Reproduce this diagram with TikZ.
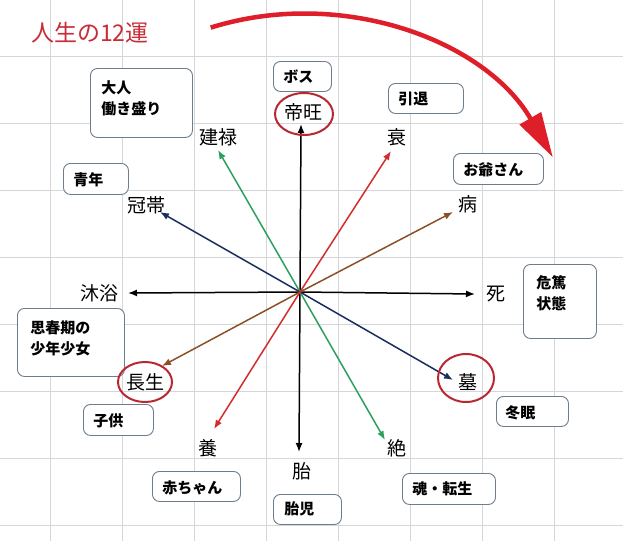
\documentclass[tikz,border=0pt]{standalone}
\usepackage{fontspec}
\newfontfamily\jpfont{Noto Sans CJK JP}
\usepackage{xcolor}
\usepackage{tikz}
\usetikzlibrary{arrows.meta,calc}
\definecolor{gridgray}{RGB}{212,214,218}
\definecolor{boxline}{RGB}{110,125,140}
\definecolor{titlered}{RGB}{200,45,55}
\definecolor{arcred}{RGB}{222,30,40}
\definecolor{ringred}{RGB}{185,40,50}
\definecolor{spokegreen}{RGB}{45,160,95}
\definecolor{spokenavy}{RGB}{25,45,95}
\definecolor{spokebrown}{RGB}{140,80,40}
\definecolor{spokered}{RGB}{210,45,45}

\begin{document}
\begin{tikzpicture}[x=1pt,y=-1pt,>={Latex[length=9pt,width=7pt]},
    gridline/.style={gridgray,line width=1pt},
    spoke/.style={->,line width=1.5pt},
    lbl/.style={font=\jpfont\fontsize{19}{21}\selectfont,inner sep=1pt},
    agebox/.style={draw=boxline,fill=white,line width=0.9pt,rounded corners=7pt,
      anchor=north west,align=left,inner xsep=10pt,inner ysep=0pt,
      font=\jpfont\bfseries\fontsize{15}{21}\selectfont},
    ring/.style={ringred,line width=2pt}]
  \useasboundingbox (0,0) rectangle (623,541);
  \fill[white] (0,0) rectangle (623,541);
  % grid
  \foreach \i in {0,...,7} {
    \draw[gridline] ({50+72.14*\i},0) -- ({50+72.14*\i},541);
    \draw[gridline] (0,{56+67.14*\i}) -- (623,{56+67.14*\i});
  }

  % title
  \node[anchor=west,text=titlered,inner sep=0pt,
    font=\jpfont\fontsize{23}{26}\selectfont] (title) at (31,33) {人生の12運};

  % life stage boxes
  \node[agebox,inner xsep=11pt,text width=80pt,text height=25pt,text depth=44pt] (otona) at (90,68) {大人\\働き盛り};
  \node[agebox,text width=38pt,text height=21pt,text depth=9pt] (boss) at (273,61) {ボス};
  \node[agebox,text width=55pt,text height=21pt,text depth=9pt] (intai) at (388,83) {引退};
  \node[agebox,text width=70pt,text height=22pt,text depth=9pt] (ojiisan) at (453,153) {お爺さん};
  \node[agebox,text width=45pt,text height=22pt,text depth=9pt] (seinen) at (63,163) {青年};
  \node[agebox,inner xsep=13pt,text width=47pt,text height=24pt,text depth=50pt] (kitoku) at (523,264) {危篤\\状態};
  \node[agebox,inner xsep=13pt,text width=81pt,text height=25pt,text depth=43pt] (shishunki) at (17,308) {思春期の\\少年少女};
  \node[agebox,text width=50pt,text height=22pt,text depth=9pt] (kodomo) at (83,404) {子供};
  \node[agebox,inner xsep=9pt,text width=54pt,text height=22pt,text depth=8pt] (toumin) at (496,396) {冬眠};
  \node[agebox,text width=68pt,text height=22pt,text depth=8pt] (akachan) at (152,471) {赤ちゃん};
  \node[agebox,inner xsep=11pt,text width=46pt,text height=20pt,text depth=10pt] (taiji) at (273,494) {胎児};
  \node[agebox,text width=73pt,text height=21pt,text depth=10pt] (tensei) at (402,473) {魂・転生};

  % the twelve stages
  \coordinate (c) at (300,292);
  \coordinate (teiou-t) at (301,124);
  \coordinate (sui-t) at (391,151);
  \coordinate (byou-t) at (453,212);
  \coordinate (shi-t) at (475,294);
  \coordinate (bo-t) at (453,380);
  \coordinate (zetsu-t) at (385,440);
  \coordinate (tai-t) at (299,452);
  \coordinate (you-t) at (214,429);
  \coordinate (chousei-t) at (162,366);
  \coordinate (mokuyoku-t) at (128,293);
  \coordinate (kantai-t) at (160,212);
  \coordinate (kenroku-t) at (218,150);

  \draw[spoke,black] (c) -- (teiou-t);
  \draw[spoke,black] (c) -- (tai-t);
  \draw[spoke,black] (c) -- (mokuyoku-t);
  \draw[spoke,black] (c) -- (shi-t);
  \draw[spoke,spokegreen] (c) -- (kenroku-t);
  \draw[spoke,spokegreen] (c) -- (zetsu-t);
  \draw[spoke,spokenavy] (c) -- (kantai-t);
  \draw[spoke,spokenavy] (c) -- (bo-t);
  \draw[spoke,spokebrown] (c) -- (chousei-t);
  \draw[spoke,spokebrown] (c) -- (byou-t);
  \draw[spoke,spokered] (c) -- (you-t);
  \draw[spoke,spokered] (c) -- (sui-t);

  \node[lbl] (teiou) at (303,112) {帝旺};
  \node[lbl] (sui) at (397,137) {衰};
  \node[lbl] (byou) at (468,204) {病};
  \node[lbl] (shi) at (496,294) {死};
  \node[lbl] (bo) at (468,382) {墓};
  \node[lbl] (zetsu) at (397,448) {絶};
  \node[lbl] (tai) at (302,471) {胎};
  \node[lbl] (you) at (208,448) {養};
  \node[lbl] (chousei) at (145,382) {長生};
  \node[lbl] (mokuyoku) at (99,293) {沐浴};
  \node[lbl] (kantai) at (146,205) {冠帯};
  \node[lbl] (kenroku) at (218,137) {建禄};

  % red rings
  \draw[ring] ($(teiou)+(1,2)$) ellipse[x radius=29,y radius=21];
  \draw[ring] (chousei) ellipse[x radius=27,y radius=20];
  \draw[ring] ($(bo)+(-2,-4)$) ellipse[x radius=28,y radius=24];

  % big arrow
  \draw[arcred,line width=4.5pt,-{Triangle[length=45pt,width=24pt]}]
    ($(c)+(-108:289 and 278)$) arc[start angle=-108,end angle=-29,x radius=289,y radius=278];
\end{tikzpicture}
\end{document}
